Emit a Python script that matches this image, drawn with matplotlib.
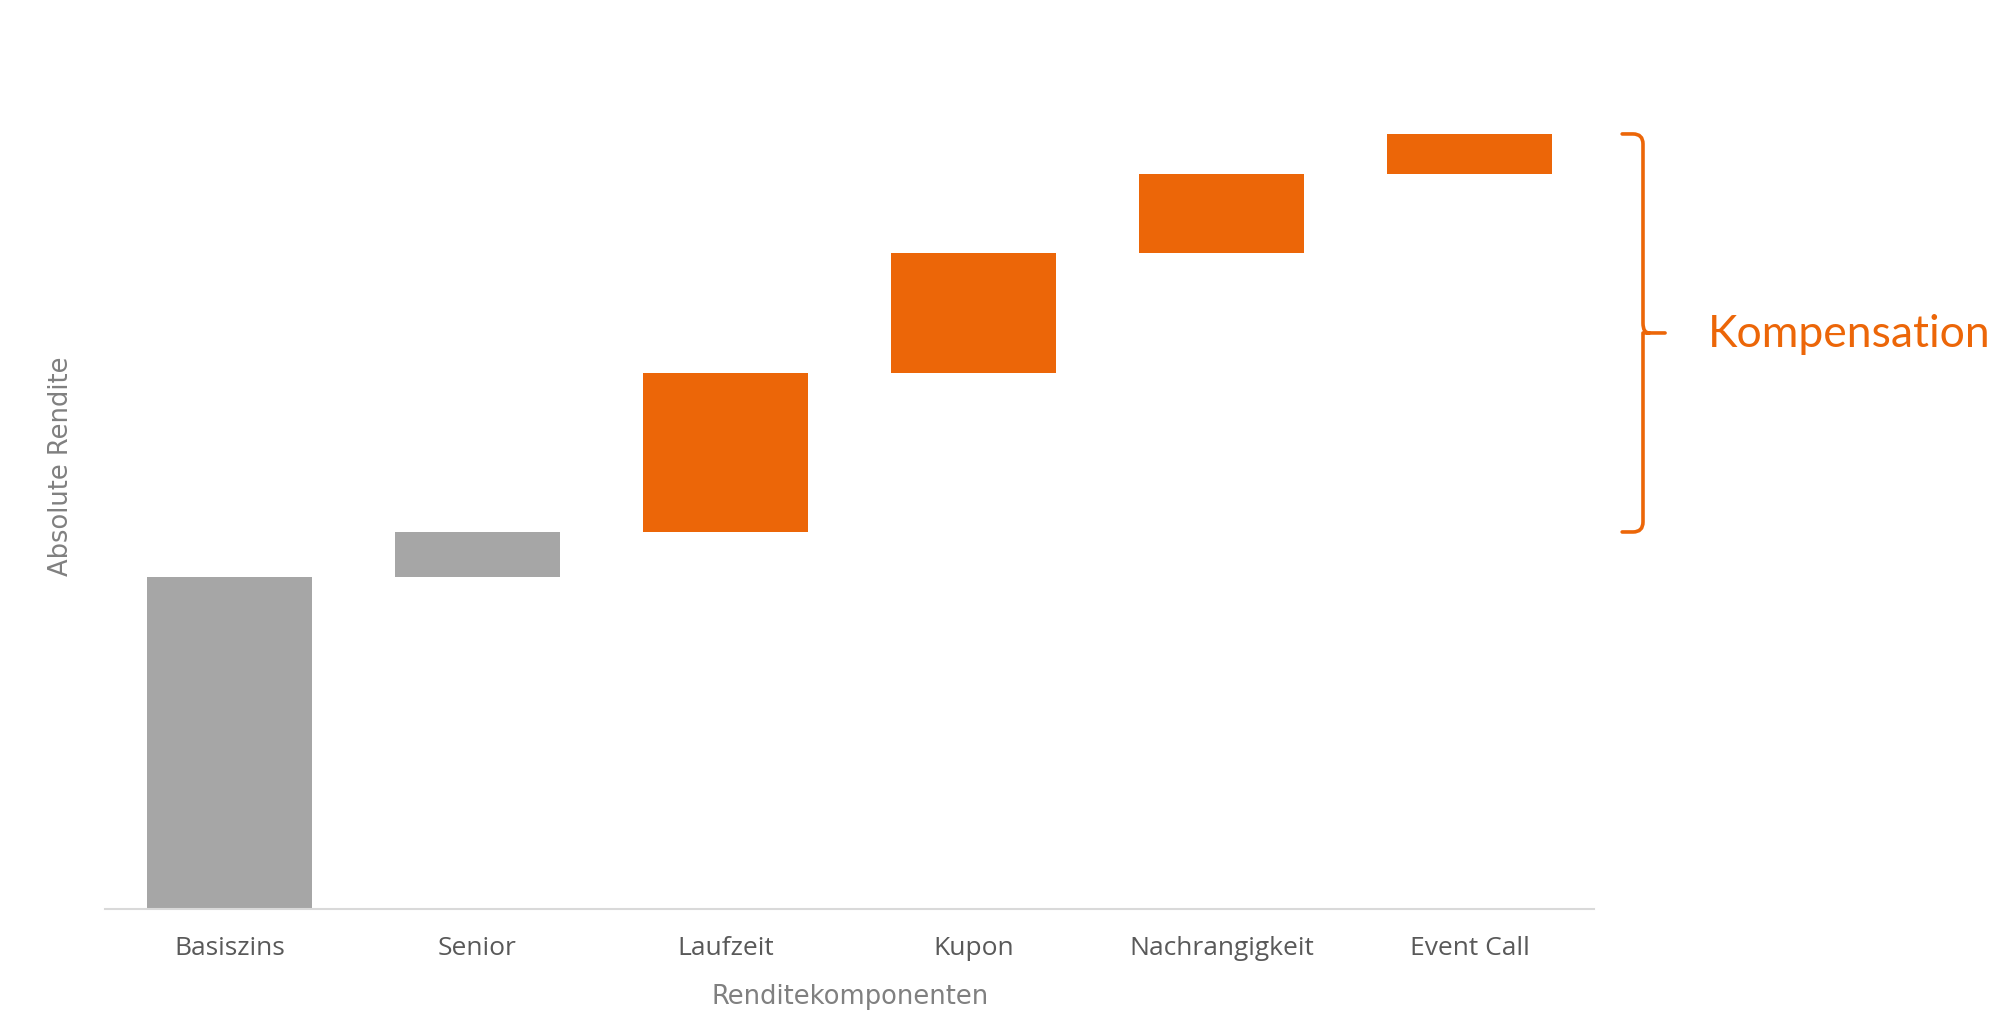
import matplotlib
matplotlib.use("Agg")
from matplotlib import pyplot as plt
from matplotlib.path import Path
import matplotlib.patches as patches
import numpy as np

# yield components (waterfall steps)
categories = ["Basiszins", "Senior", "Laufzeit", "Kupon", "Nachrangigkeit", "Event Call"]
values = [3.32, 0.45, 1.59, 1.20, 0.79, 0.40]
is_compensation = [False, False, True, True, True, True]

GREY = "#A6A6A6"
ORANGE = "#EC6608"
TICK_COLOR = "#595959"
LABEL_COLOR = "#808080"

values = np.array(values)
bottoms = np.concatenate([[0], np.cumsum(values)[:-1]])
colors = [ORANGE if c else GREY for c in is_compensation]
x = np.arange(len(categories))

fig = plt.figure(figsize=(20.11, 10.11), dpi=100)
ax = fig.add_axes([0.05246, 0.1009, 0.7400, 0.8398])

ax.bar(x, values, bottom=bottoms, width=0.665, color=colors, linewidth=0)
ax.set_xlim(-0.5, len(categories) - 0.5)
ax.set_ylim(0, 8.49)

for side in ["top", "right", "left"]:
    ax.spines[side].set_visible(False)
ax.spines["bottom"].set_color("#D9D9D9")
ax.spines["bottom"].set_linewidth(1.5)
ax.set_yticks([])
ax.set_xticks(x)
ax.set_xticklabels(categories, fontsize=19, color=TICK_COLOR, family="Open Sans")
ax.tick_params(axis="x", length=0, pad=19.5)

fig.text(850 / 2011, 1 - 997 / 1011, "Renditekomponenten", ha="center", va="center",
         fontsize=18.5, color=LABEL_COLOR, family="DejaVu Sans")
fig.text(61 / 2011, 1 - 466 / 1011, "Absolute Rendite", ha="center", va="center",
         rotation=90, fontsize=18.5, color=LABEL_COLOR, family="DejaVu Sans")

# curly brace spanning the compensation components
y_lo = bottoms[2]
y_hi = bottoms[-1] + values[-1]
y_mid = (y_lo + y_hi) / 2
xv = 5.699     # vertical stroke
xh = 5.615     # end of the hooks
xt = 5.788     # tip
rx, ry = 0.04, 0.10
verts = [
    (xh, y_hi), (xv - rx, y_hi),
    (xv, y_hi), (xv, y_hi - ry),
    (xv, y_mid + ry),
    (xv, y_mid), (xv + rx * 0.6, y_mid),
    (xt, y_mid),
    (xv + rx * 0.6, y_mid), (xv, y_mid),
    (xv, y_mid - ry),
    (xv, y_lo + ry),
    (xv, y_lo), (xv - rx, y_lo),
    (xh, y_lo),
]
codes = [
    Path.MOVETO, Path.LINETO,
    Path.CURVE3, Path.CURVE3,
    Path.LINETO,
    Path.CURVE3, Path.CURVE3,
    Path.LINETO,
    Path.MOVETO, Path.LINETO,
    Path.CURVE3, Path.LINETO,
    Path.CURVE3, Path.CURVE3,
    Path.LINETO,
]
brace = patches.PathPatch(Path(verts, codes), facecolor="none", edgecolor=ORANGE,
                          linewidth=2.6, capstyle="round", joinstyle="round", clip_on=False)
ax.add_patch(brace)

ax.text(1708 / 2011, 1 - 347 / 1011, "Kompensation", transform=fig.transFigure,
        ha="left", va="baseline", fontsize=32, color=ORANGE, family="Lato")

fig.savefig("out.png", dpi=100, facecolor="white")
